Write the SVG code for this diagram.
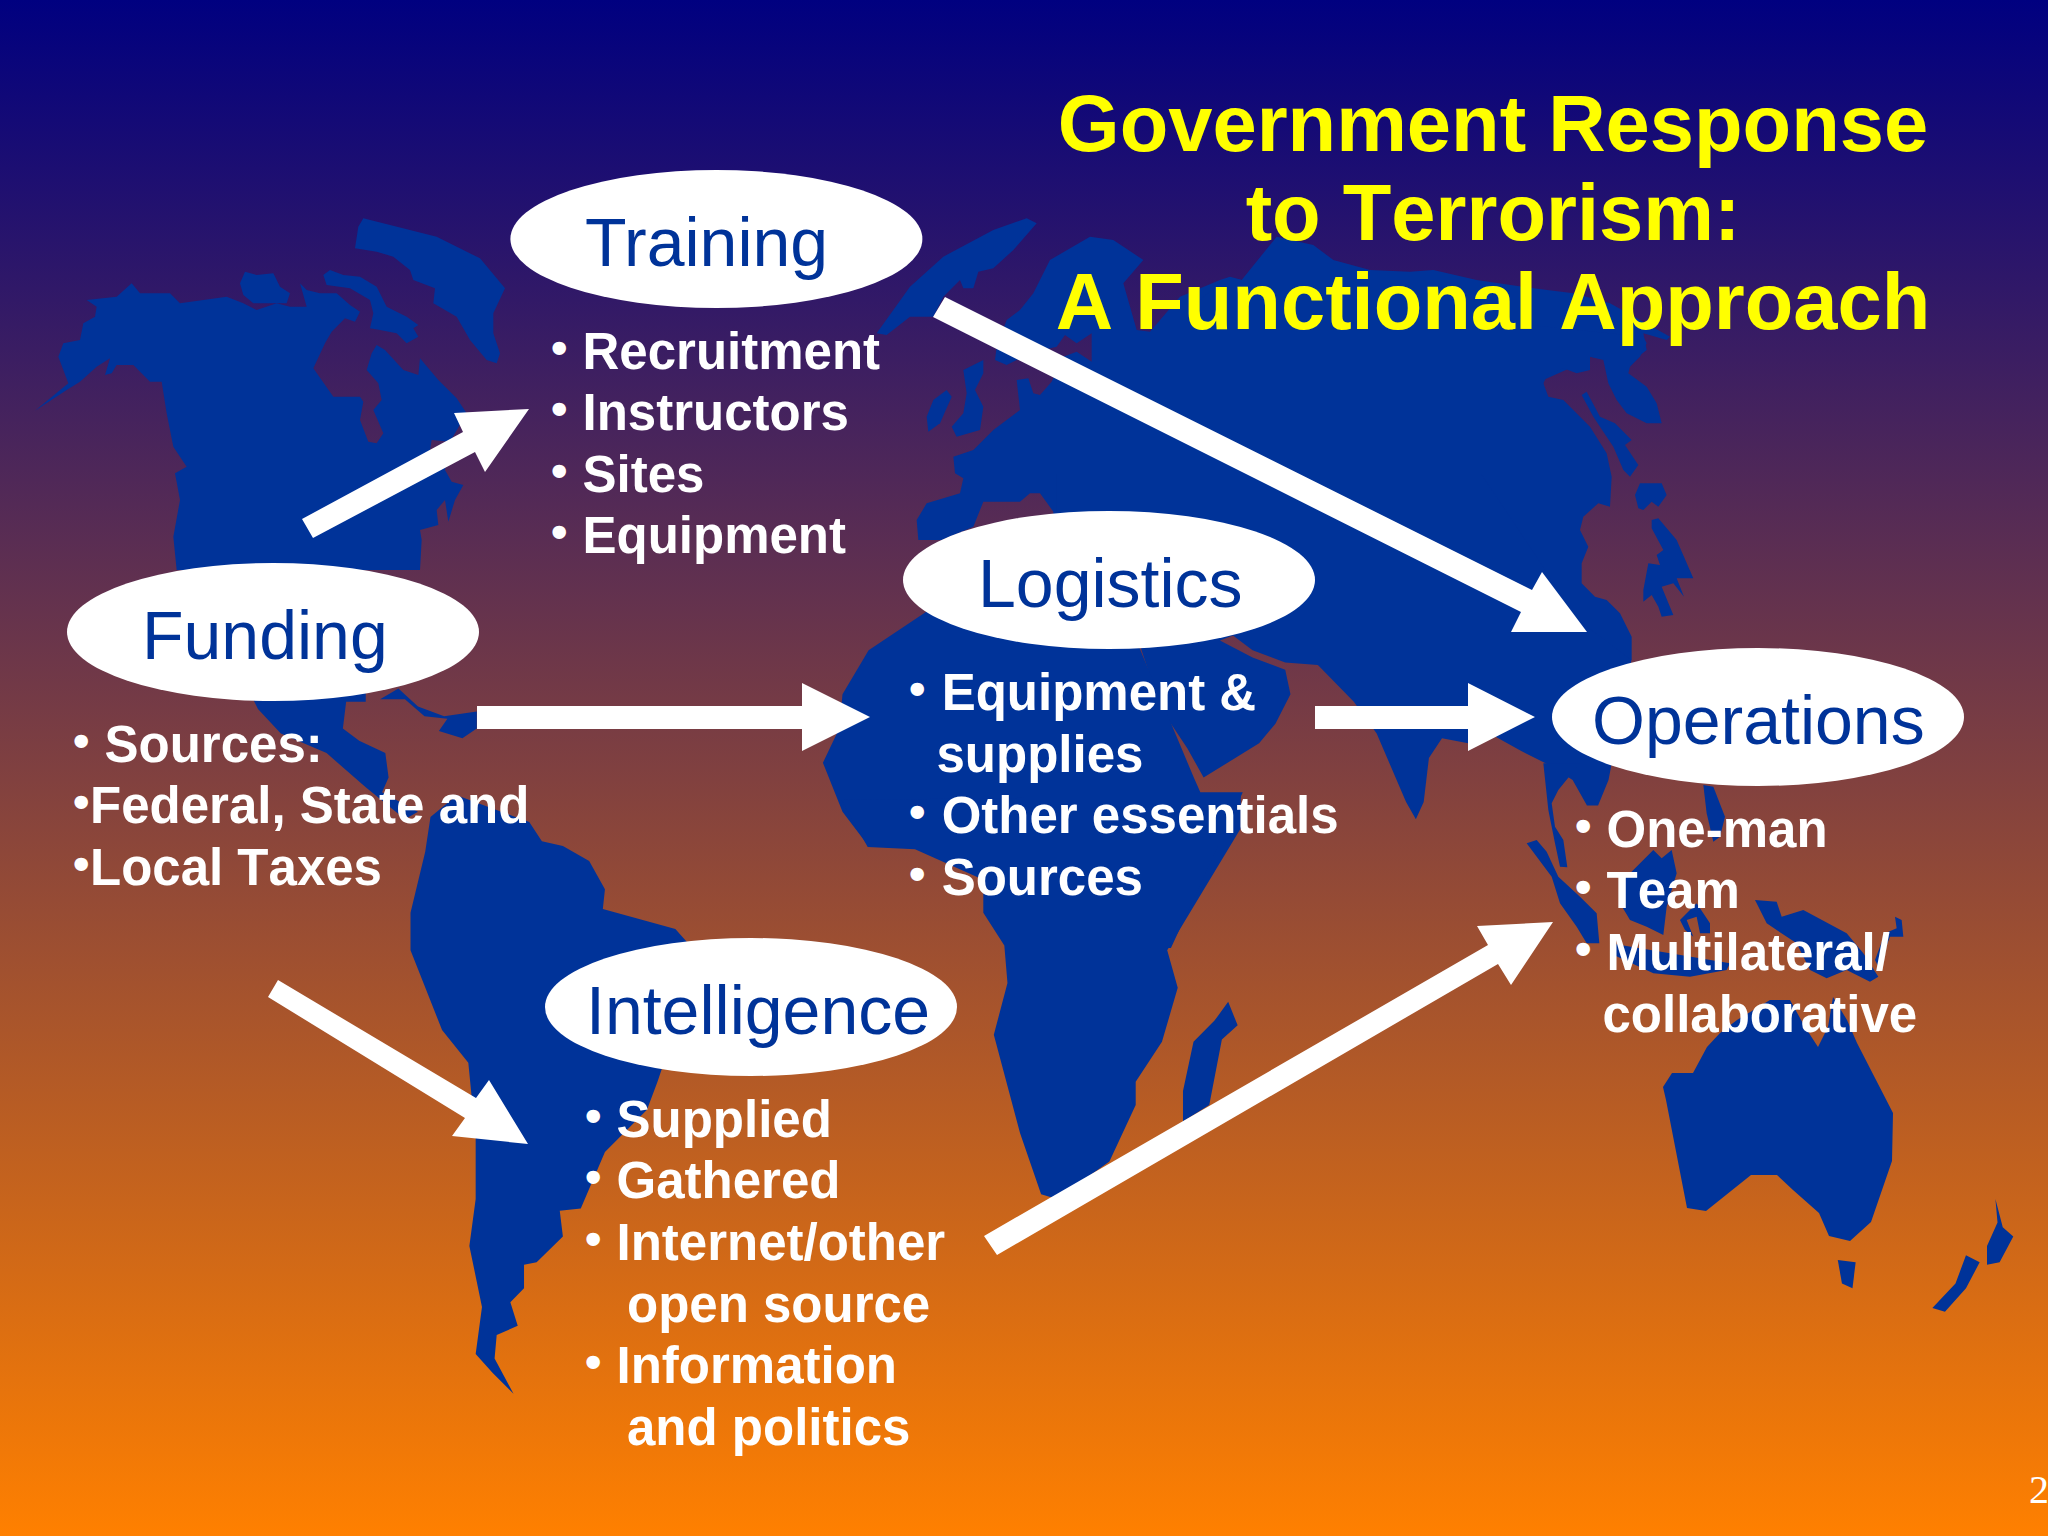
<svg xmlns="http://www.w3.org/2000/svg" width="2048" height="1536" viewBox="0 0 2048 1536">
<defs>
<linearGradient id="bg" x1="0" y1="0" x2="0" y2="1"><stop offset="0" stop-color="#000080"/><stop offset="1" stop-color="#ff8000"/></linearGradient>
</defs>
<style>
.land{fill:#003399}
.arrow{fill:#fff}
.oval{fill:#fff}
.name{font-family:"Liberation Sans",Arial,sans-serif;font-size:68px;fill:#003399}
.item{font-family:"Liberation Sans",Arial,sans-serif;font-size:51px;font-weight:bold;fill:#fff;font-kerning:none}
.b{font-size:47px}
.title{font-family:"Liberation Sans",Arial,sans-serif;font-size:79.5px;font-weight:bold;fill:#ffff00;text-anchor:middle;font-kerning:none}
.num{font-family:"Liberation Serif","Times New Roman",serif;font-size:40px;fill:#fff}
</style>
<rect width="2048" height="1536" fill="url(#bg)"/>
<g id="map" class="land">
<g transform="translate(30,200) scale(.33333)">
<polygon points="15,632 110,570 150,545 200,500 240,475 225,525 245,520 260,495 310,495 360,545 395,545 410,640 430,740 470,800 435,820 450,900 430,1010 440,1110 1170,1110 1175,1020 1170,990 1225,975 1220,930 1245,900 1255,965 1275,900 1300,855 1265,845 1245,810 1250,780 1200,750 1205,720 1260,725 1310,640 1280,595 1225,540 1170,475 1165,525 1120,510 1065,450 1040,435 1025,460 1010,510 1045,550 1055,600 1030,630 1060,700 1040,730 1015,725 990,660 1000,605 990,590 910,590 850,505 885,430 905,395 945,355 975,365 990,335 960,315 920,280 870,280 830,270 810,250 830,320 780,320 740,310 680,330 640,310 590,290 450,310 420,280 330,280 305,250 260,290 170,300 200,320 195,350 160,370 150,420 100,430 85,470 100,510 115,550"/>
<polygon points="630,250 645,215 680,225 730,220 750,260 780,280 770,310 710,310 670,310 640,285"/>
<polygon points="880,225 900,210 940,225 990,230 1040,260 1070,320 1130,350 1165,375 1150,385 1165,410 1130,430 1100,400 1050,390 1020,385 1030,340 1020,300 960,265 890,255"/>
<polygon points="1000,55 1220,110 1350,175 1425,265 1390,340 1390,400 1410,460 1400,490 1370,480 1320,420 1280,350 1210,310 1215,265 1150,240 1140,210 1090,170 1040,155 975,145 985,80"/>
</g>
<g transform="translate(0,180) scale(.6531,.4898)">
<polygon points="380,1040 560,1040 560,1065 530,1065 525,1120 550,1145 590,1170 595,1220 585,1250 640,1290 620,1305 560,1240 500,1170 430,1130 395,1080"/>
<polygon points="582,1060 610,1038 640,1075 680,1095 730,1085 730,1120 708,1140 672,1125 685,1100 650,1095 620,1060"/>
<polygon points="1420,880 1330,960 1290,1050 1285,1120 1260,1190 1290,1290 1330,1360 1402,1365 1432,1340 1500,1405 1568,1400 1568,880"/>
</g>
<g transform="translate(400,800) scale(1.051,.4694)">
<polygon points="29,36 54,-10 123,47 135,88 155,98 180,130 195,190 193,232 262,275 280,320 260,500 245,600 235,660 195,750 172,870 152,875 155,930 130,985 118,990 118,1040 105,1070 112,1120 92,1140 90,1190 108,1265 88,1220 72,1180 78,1080 66,950 72,850 72,720 65,560 40,490 10,320 10,240 24,110"/>
<polygon points="420,0 445,100 490,105 555,170 555,240 575,310 578,390 565,500 590,710 610,840 625,850 675,770 700,650 700,600 725,515 740,400 730,320 800,60 800,-10"/>
<polygon points="788,430 797,480 782,510 770,650 745,685 745,620 755,515 775,470"/>
<polygon points="1368,980 1385,985 1382,1040 1372,1030"/>
<polygon points="1518,850 1525,910 1535,930 1522,985 1510,990 1510,950 1520,900"/>
<polygon points="1490,970 1503,985 1490,1040 1470,1090 1458,1082 1480,1030"/>
</g>
<g transform="translate(860,200) scale(.33333)">
<polygon points="50,400 150,260 250,170 400,90 500,55 530,70 460,150 400,205 355,215 340,265 310,265 300,240 250,290 220,350 150,350 80,405"/>
<polygon points="175,1020 170,960 200,910 300,880 310,835 285,820 280,770 340,750 400,690 480,630 470,540 505,535 520,580 540,585 575,545 610,470 650,455 695,485 695,400 650,430 615,405 590,440 550,450 500,470 470,480 440,495 405,480 410,440 440,360 480,330 520,280 570,180 690,110 760,120 850,180 790,250 830,390 870,395 960,290 1080,240 1110,230 1146,240 1300,300 1300,1020 580,1020 580,935 540,880 510,880 480,905 370,905 340,980 245,1020"/>
<polygon points="310,510 370,480 370,520 345,570 370,620 360,690 290,710 275,680 310,640 320,580"/>
<polygon points="220,600 260,570 275,590 240,670 205,695 200,650"/>
</g>
<g transform="translate(1200,200) scale(.33333)">
<polygon points="70,240 100,235 125,240 230,110 340,135 400,180 510,210 630,215 700,210 830,240 1000,265 1120,280 1230,310 1410,410 1400,420 1330,400 1340,450 1290,490 1170,470 1165,480 1030,540 1030,900 0,900 0,300"/>
</g>
<g transform="translate(1480,320) scale(.33333)">
<polygon points="0,0 490,50 500,70 480,110 450,140 445,160 500,200 530,250 545,310 500,310 440,280 410,240 385,190 370,120 330,110 330,150 290,160 250,145 205,160 190,190 205,230 250,240 330,320 380,400 395,470 390,560 355,550 310,590 300,630 325,680 305,730 305,790 345,830 380,840 420,880 455,950 455,1020 0,1020"/>
<polygon points="305,225 320,215 360,290 405,310 455,360 435,375 475,435 450,470 430,450 400,380 340,290"/>
<polygon points="480,490 545,490 560,525 535,560 515,545 490,570 475,565 465,525"/>
<polygon points="515,600 535,595 590,660 640,775 590,775 612,830 580,790 545,800 580,885 545,890 535,860 515,825 490,845 490,810 505,730 540,735 530,705 550,690 515,625"/>
</g>
<g transform="translate(1024,180) scale(.6531,.4898)">
<polygon points="50,600 700,600 850,900 930,980 895,1225 879,1277 862,1277 840,1225 805,1195 760,1165 720,1135 680,1150 640,1140 620,1180 612,1270 600,1305 585,1270 540,1130 505,1065 450,990 400,985 350,960 320,930 300,940 350,975 400,1000 408,1050 385,1110 360,1150 275,1220 250,1160 210,1080 180,960 175,930 50,930"/>
<polygon points="0,900 175,950 260,1220 270,1250 335,1250 225,1568 0,1568"/>
</g>
<g transform="translate(1480,780) scale(.33333)">
<polygon points="190,-50 205,90 225,190 240,260 262,262 250,180 225,140 215,70 235,30 300,-50"/>
<polygon points="670,15 700,20 735,110 720,170 700,185 680,100"/>
<polygon points="140,190 170,180 200,215 235,290 300,350 350,400 358,490 320,490 290,440 240,370 215,290"/>
<polygon points="430,300 520,210 545,235 575,210 590,280 560,380 550,465 500,440 450,420 420,370"/>
<polygon points="600,420 650,370 690,430 690,460 660,460 650,410 620,420 640,470 615,450"/>
<polygon points="390,490 750,550 740,570 630,590 520,580 390,520"/>
<polygon points="825,360 890,365 905,410 970,390 1100,460 1150,520 1195,590 1170,605 1100,570 1040,595 990,570 950,490 860,430"/>
<polygon points="1245,410 1265,420 1270,470 1230,470 1195,560 1185,540 1215,460 1250,445"/>
</g>
<polygon points="1663,1087 1672,1073 1693,1073 1707,1047 1720,1033 1737,1020 1770,1000 1790,1000 1805,1027 1818,1047 1828,1027 1833,997 1847,1020 1857,1043 1893,1113 1892,1161 1871,1222 1850,1241 1829,1236 1819,1213 1793,1190 1777,1175 1751,1175 1706,1211 1687,1208 1666,1100"/>
</g>
<g id="connectors" class="arrow">
<polygon id="funding-training" points="302,519 313,538 475,452 485,472 529,409 454,413 463,432"/>
<polygon id="training-operations" points="945,297 933,317 1521,612 1511,632 1587,632 1542,572 1532,590"/>
<polygon id="funding-logistics" points="477,706 477,729 802,729 802,751 870,717 802,683 802,706"/>
<polygon id="logistics-operations" points="1315,706 1315,729 1468,729 1468,751 1535,717 1468,683 1468,706"/>
<polygon id="funding-intelligence" points="278,980 268,997 465,1118 452,1136 528,1144 489,1080 476,1098"/>
<polygon id="intelligence-operations" points="984,1236 997,1255 1498,964 1511,985 1553,922 1477,926 1488,945"/>
</g>
<g id="training">
<ellipse class="oval" cx="716.4" cy="239" rx="206" ry="69"/>
<text class="name" x="585" y="266">Training</text>
<text class="item"><tspan class="b" x="551" y="364">•</tspan><tspan x="582.5" y="369">Recruitment</tspan><tspan class="b" x="551" y="425">•</tspan><tspan x="582.5" y="430">Instructors</tspan><tspan class="b" x="551" y="487">•</tspan><tspan x="582.5" y="492">Sites</tspan><tspan class="b" x="551" y="548">•</tspan><tspan x="582.5" y="553">Equipment</tspan></text>
</g>
<g id="funding">
<ellipse class="oval" cx="273" cy="632" rx="206" ry="69"/>
<text class="name" x="142" y="659">Funding</text>
<text class="item"><tspan class="b" x="73" y="757">•</tspan><tspan x="104.5" y="762">Sources:</tspan><tspan class="b" x="73" y="818">•</tspan><tspan x="90" y="823">Federal, State and</tspan><tspan class="b" x="73" y="880">•</tspan><tspan x="90" y="885">Local Taxes</tspan></text>
</g>
<g id="logistics">
<ellipse class="oval" cx="1109" cy="580" rx="206" ry="69"/>
<text class="name" x="978" y="607">Logistics</text>
<text class="item"><tspan class="b" x="909" y="705">•</tspan><tspan x="941.7" y="710">Equipment &amp;</tspan><tspan x="936.5" y="772">supplies</tspan><tspan class="b" x="909" y="828">•</tspan><tspan x="941.7" y="833">Other essentials</tspan><tspan class="b" x="909" y="890">•</tspan><tspan x="941.7" y="895">Sources</tspan></text>
</g>
<g id="operations">
<ellipse class="oval" cx="1758" cy="717" rx="206" ry="69"/>
<text class="name" x="1592" y="744">Operations</text>
<text class="item"><tspan class="b" x="1575" y="842">•</tspan><tspan x="1606.5" y="847">One-man</tspan><tspan class="b" x="1575" y="903">•</tspan><tspan x="1606.5" y="908">Team</tspan><tspan class="b" x="1575" y="965">•</tspan><tspan x="1606.5" y="970">Multilateral/</tspan><tspan x="1602.5" y="1032">collaborative</tspan></text>
</g>
<g id="intelligence">
<ellipse class="oval" cx="751" cy="1007" rx="206" ry="69"/>
<text class="name" x="586" y="1034">Intelligence</text>
<text class="item"><tspan class="b" x="585" y="1132">•</tspan><tspan x="616.5" y="1137">Supplied</tspan><tspan class="b" x="585" y="1193">•</tspan><tspan x="616.5" y="1198">Gathered</tspan><tspan class="b" x="585" y="1255">•</tspan><tspan x="616.5" y="1260">Internet/other</tspan><tspan x="627" y="1322">open source</tspan><tspan class="b" x="585" y="1378">•</tspan><tspan x="616.5" y="1383">Information</tspan><tspan x="627" y="1445">and politics</tspan></text>
</g>
<text class="title"><tspan x="1493" y="151">Government Response</tspan><tspan x="1493" y="240">to Terrorism:</tspan><tspan x="1493" y="329">A Functional Approach</tspan></text>
<text class="num" x="2029" y="1503">2</text>
</svg>
